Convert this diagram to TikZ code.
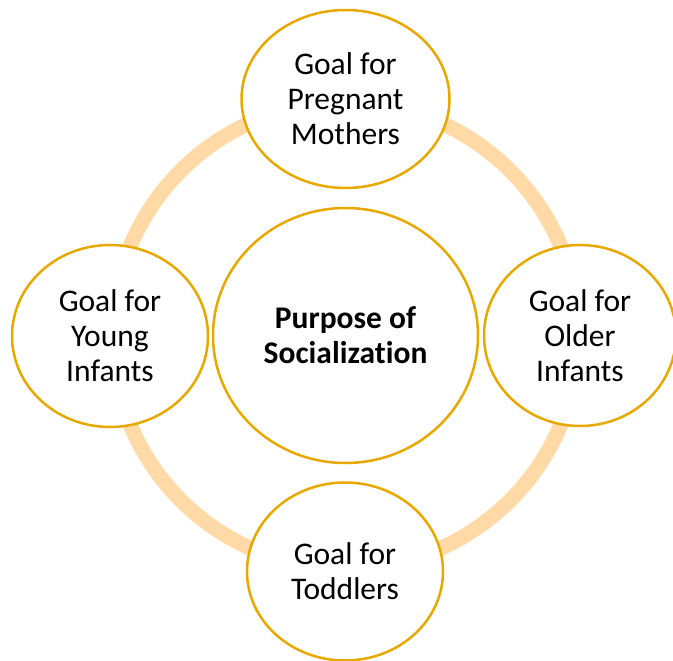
\documentclass[tikz,border=0pt]{standalone}
\usepackage{fontspec}
\setmainfont[Ligatures=NoCommon]{Carlito}
\usetikzlibrary{shapes.geometric}
\definecolor{gold}{RGB}{232,168,0}
\definecolor{ringc}{RGB}{255,218,166}
\tikzset{
  bubble/.style={ellipse, draw=gold, line width=2.5pt, fill=white, inner sep=0pt,
    align=center, font=\fontsize{31.5}{35}\selectfont},
}
\begin{document}
\begin{tikzpicture}[x=1pt,y=-1pt]
\useasboundingbox (0,0) rectangle (673,661);
\draw[ringc, line width=15pt] (345.5,335.5) circle (233);
\node[bubble, minimum width=265pt, minimum height=255pt, font=\fontsize{31.5}{35}\selectfont\bfseries] (center) at (345.5,335.5) {Purpose of\\Socialization};
\node[bubble, minimum width=208pt, minimum height=178pt] (top) at (345.5,99) {Goal for\\Pregnant\\Mothers};
\node[bubble, minimum width=196pt, minimum height=182pt] (left) at (110,336) {Goal for\\Young\\Infants};
\node[bubble, minimum width=192pt, minimum height=181pt] (right) at (580,335.5) {Goal for\\Older\\Infants};
\node[bubble, minimum width=196pt, minimum height=178pt] (bottom) at (345,571.5) {Goal for\\Toddlers};
\end{tikzpicture}
\end{document}
